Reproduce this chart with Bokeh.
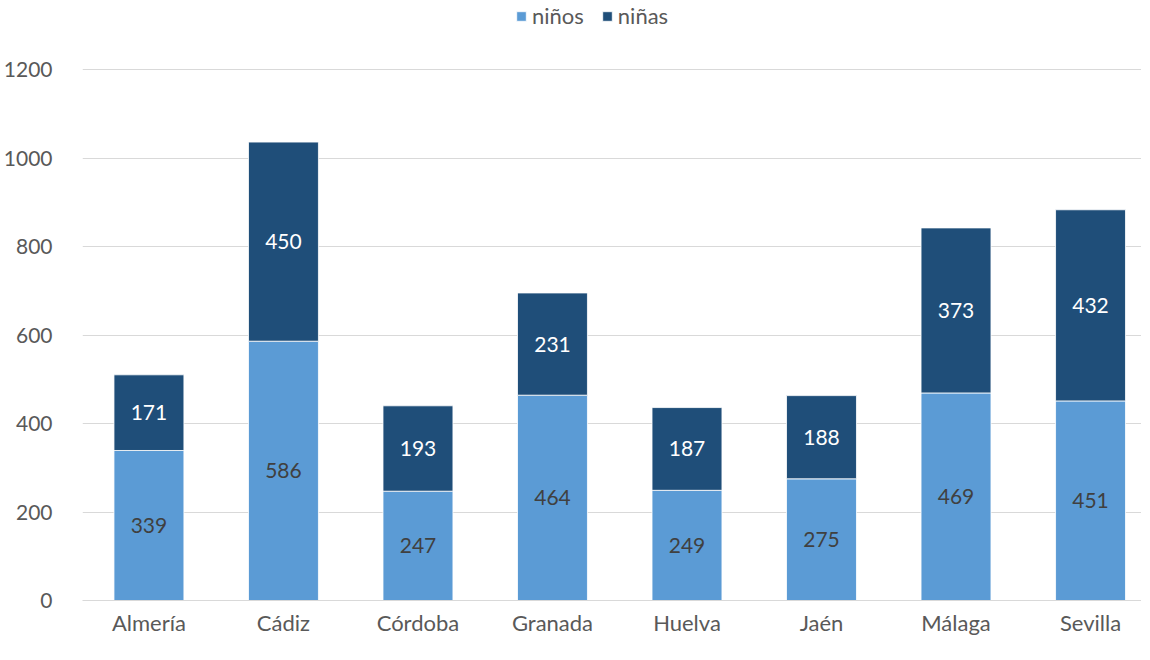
from bokeh.plotting import figure
from bokeh.models import ColumnDataSource, Range1d, FixedTicker, Legend, LegendItem
from bokeh.embed import file_html
from bokeh.resources import INLINE
from bokeh.core.properties import value

provinces = ["Almería", "Cádiz", "Córdoba", "Granada", "Huelva", "Jaén", "Málaga", "Sevilla"]
ninos = [339, 586, 247, 464, 249, 275, 469, 451]
ninas = [171, 450, 193, 231, 187, 188, 373, 432]
y_ticks = [0, 200, 400, 600, 800, 1000, 1200]

FONT = "Lato"
C_NINOS = "#5B9BD5"
C_NINAS = "#1F4E79"

xs = list(range(len(provinces)))
src = ColumnDataSource(dict(
    x=xs,
    ninos=ninos,
    ninas=ninas,
    top1=ninos,
    top2=[a + b for a, b in zip(ninos, ninas)],
    mid1=[a / 2 for a in ninos],
    mid2=[a + b / 2 for a, b in zip(ninos, ninas)],
    lab1=[str(v) for v in ninos],
    lab2=[str(v) for v in ninas],
))

# frame reaches the top of the figure so the legend sits inside it;
# the gridlines stop at 1200 because they only follow the fixed ticks
FRAME_H = 600
TOP_GAP = 69
y_max = 1200 * FRAME_H / (FRAME_H - TOP_GAP)

p = figure(frame_width=1059, frame_height=FRAME_H, output_backend="svg", toolbar_location=None,
           x_range=Range1d(-0.494, 7.379), y_range=Range1d(0, y_max))
p.min_border_left = 75
p.min_border_right = 0
p.min_border_top = 0
p.min_border_bottom = 0
p.outline_line_color = None
p.background_fill_color = "white"
p.border_fill_color = "white"

r1 = p.vbar(x="x", bottom=0, top="top1", width=0.52, source=src,
            fill_color=C_NINOS, line_color="white", line_width=1, line_alpha=0.8)
r2 = p.vbar(x="x", bottom="top1", top="top2", width=0.52, source=src,
            fill_color=C_NINAS, line_color="white", line_width=1, line_alpha=0.8)

p.text(x="x", y="mid1", text="lab1", source=src, text_align="center",
       text_baseline="middle", text_font=value(FONT), text_font_size="21px",
       text_color="#404040")
p.text(x="x", y="mid2", text="lab2", source=src, text_align="center",
       text_baseline="middle", text_font=value(FONT), text_font_size="21px",
       text_color="white")

# axes
p.xaxis.ticker = FixedTicker(ticks=xs)
p.xaxis.major_label_overrides = {i: name for i, name in enumerate(provinces)}
p.xaxis.major_tick_line_color = None
p.xaxis.minor_tick_line_color = None
p.xaxis.major_tick_out = 0
p.xaxis.major_tick_in = 0
p.xaxis.axis_label_standoff = 0
p.xaxis.axis_line_color = "#D9D9D9"
p.xaxis.axis_line_width = 1
p.xaxis.major_label_text_font = FONT
p.xaxis.major_label_text_font_size = "22px"
p.xaxis.major_label_text_color = "#595959"
p.xaxis.major_label_standoff = 8

p.yaxis.ticker = FixedTicker(ticks=y_ticks)
p.yaxis.major_tick_line_color = None
p.yaxis.minor_tick_line_color = None
p.yaxis.axis_line_color = None
p.yaxis.major_label_text_font = FONT
p.yaxis.major_label_text_font_size = "21px"
p.yaxis.major_label_text_color = "#595959"
p.yaxis.major_label_standoff = 24

p.xgrid.grid_line_color = None
p.ygrid.grid_line_color = "#D9D9D9"
p.ygrid.grid_line_width = 1

legend = Legend(items=[LegendItem(label="niños", renderers=[r1]),
                       LegendItem(label="niñas", renderers=[r2])],
                location=(433, FRAME_H - 29), orientation="horizontal")
legend.padding = 0
legend.margin = 0
legend.spacing = 17
legend.glyph_width = 12
legend.glyph_height = 12
legend.label_standoff = 5
legend.label_text_font = FONT
legend.label_text_font_size = "22px"
legend.label_text_color = "#595959"
legend.border_line_color = None
legend.background_fill_alpha = 0
p.add_layout(legend, "center")

open("out.html", "w").write(file_html(p, INLINE))
